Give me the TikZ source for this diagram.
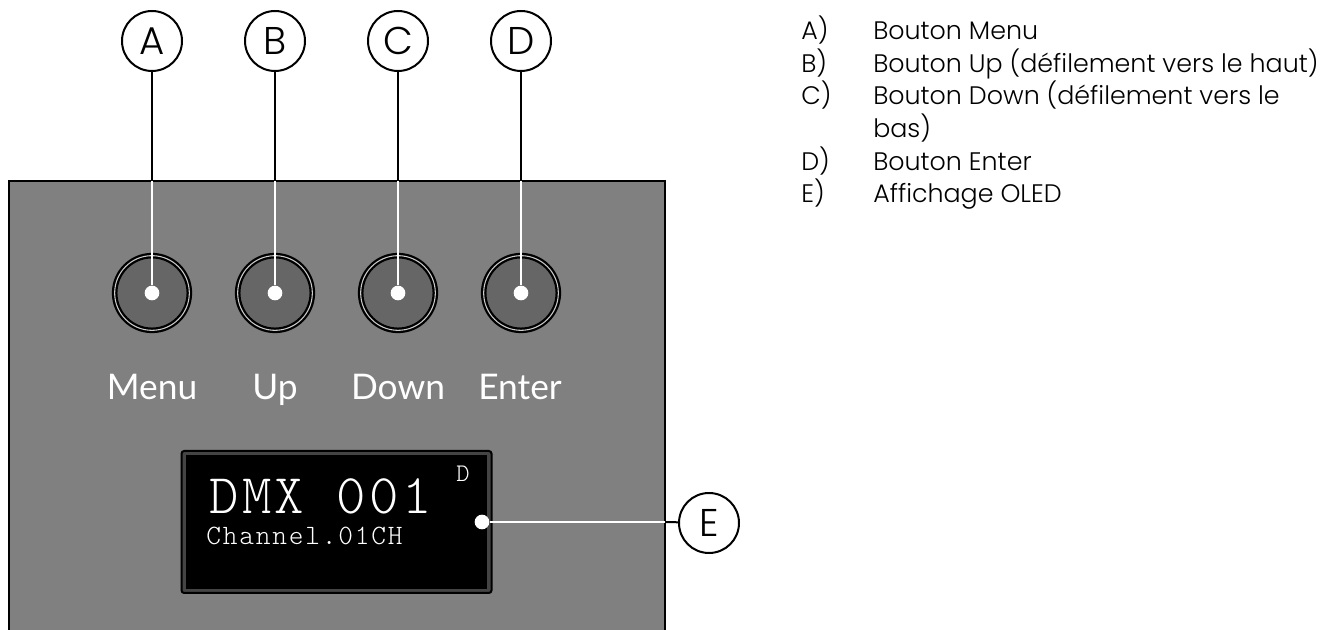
\documentclass[tikz,border=0pt]{standalone}
\usepackage{fontspec}
\setmainfont{Poppins}[UprightFont=* Light]
\newfontfamily\panelfont{Lato}
\newfontfamily\bigoled{lmmonolt10-regular.otf}[LetterSpace=6]
\newfontfamily\smalloled{lmmonolt10-regular.otf}[LetterSpace=6.5]
\usetikzlibrary{positioning,calc}
\definecolor{panelgrey}{HTML}{808080}
\definecolor{capgrey}{HTML}{666666}
\definecolor{rimgrey}{HTML}{444444}
\tikzset{callout/.style={circle,draw=black,line width=1.5pt,fill=white,minimum size=45pt,inner sep=0pt,font=\fontsize{29}{32}\selectfont},
         button/.style={circle,draw=black,line width=1.7pt,fill=capgrey,minimum size=56pt,inner sep=0pt,double=white!60!panelgrey,double distance=0.8pt},
         dotmark/.style={circle,fill=white,minimum size=11pt,inner sep=0pt},
         blackline/.style={draw=black,line width=1.5pt},
         whiteline/.style={draw=white,line width=1.5pt},
         keyname/.style={text=white,anchor=base,inner sep=0pt,font=\panelfont\fontsize{26.5}{28}\selectfont},
         listtag/.style={anchor=base west,inner sep=0pt,font=\fontsize{19}{22}\selectfont},
         listtext/.style={anchor=base west,inner sep=0pt,font=\fontsize{19}{22}\selectfont},
         oled/.style={text=white,anchor=base west,inner sep=0pt}
}

\begin{document}
\begin{tikzpicture}[x=0.75pt,y=-0.75pt]
    \useasboundingbox (0,0) rectangle (1339,630);
            %      A   B   C   D
            %
            %      o   o   o   o
            %      [ display ]----E
        \path[clip] (0,0) rectangle (1339,630);
        % housing, runs off the bottom
        \draw[fill=panelgrey,line width=1.5pt] (9,640) -- (9,181) -- (665,181) -- (665,640);
        % display
        \node[draw=black,line width=1.5pt,rounded corners=2pt,inner sep=0pt,minimum width=232.5pt,minimum height=106.5pt,fill=rimgrey] (frame) at (336.5,522) {};
        \node[fill=black,inner sep=0pt,minimum width=226pt,minimum height=100pt] (screen) at (336.5,522) {};
        \node[oled,font=\bigoled\fontsize{42}{42}\selectfont] (dmx) at (209,514) {DMX 001};
        \node[oled,font=\smalloled\fontsize{21}{22}\selectfont] (chan) at (206,545) {Channel.01CH};
        \node[oled,font=\bigoled\fontsize{19}{19}\selectfont] (mode) at (456,482) {D};
        % buttons
        \node[button] (btnA) at (152,293) {};
        \node[button] (btnB) at (275,293) {};
        \node[button] (btnC) at (398,293) {};
        \node[button] (btnD) at (521,293) {};
        \node[keyname] (menu) at (152,400) {Menu};
        \node[keyname] (up) at (275,400) {Up};
        \node[keyname] (down) at (398,400) {Down};
        \node[keyname] (enter) at (520,400) {Enter};
        % callouts
        \node[callout] (A) at (152,41) {A};
        \node[callout] (B) at (275,41) {B};
        \node[callout] (C) at (398,41) {C};
        \node[callout] (D) at (521,41) {D};
        \node[callout] (E) at (709,523) {E};
        \node[dotmark] (dotA) at (152,293) {};
        \node[dotmark] (dotB) at (275,293) {};
        \node[dotmark] (dotC) at (398,293) {};
        \node[dotmark] (dotD) at (521,293) {};
        \node[dotmark] (dotE) at (482,522) {};
        \coordinate (edgeA) at (152,181);
        \coordinate (edgeB) at (275,181);
        \coordinate (edgeC) at (398,181);
        \coordinate (edgeD) at (521,181);
        \coordinate (edgeE) at (665,522);
        \path (A) edge[blackline] (edgeA)
              (B) edge[blackline] (edgeB)
              (C) edge[blackline] (edgeC)
              (D) edge[blackline] (edgeD)
              (E) edge[blackline] (edgeE);
        \path (edgeA) edge[whiteline] (dotA)
              (edgeB) edge[whiteline] (dotB)
              (edgeC) edge[whiteline] (dotC)
              (edgeD) edge[whiteline] (dotD)
              (edgeE) edge[whiteline] (dotE);
        % list
        \node[listtag] (tagA) at (801,40) {A)};
        \node[listtag] (tagB) at (801,72.6) {B)};
        \node[listtag] (tagC) at (801,105) {C)};
        \node[listtag] (tagD) at (801,170.4) {D)};
        \node[listtag] (tagE) at (801,203) {E)};
        \node[listtext] (itemA) at (873,40) {Bouton Menu};
        \node[listtext] (itemB) at (873,72.6) {Bouton Up (défilement vers le haut)};
        \node[listtext] (itemC) at (873,105) {Bouton Down (défilement vers le};
        \node[listtext] (itemCb) at (873,137.8) {bas)};
        \node[listtext] (itemD) at (873,170.4) {Bouton Enter};
        \node[listtext] (itemE) at (873,203) {Affichage OLED};
\end{tikzpicture}
\end{document}
